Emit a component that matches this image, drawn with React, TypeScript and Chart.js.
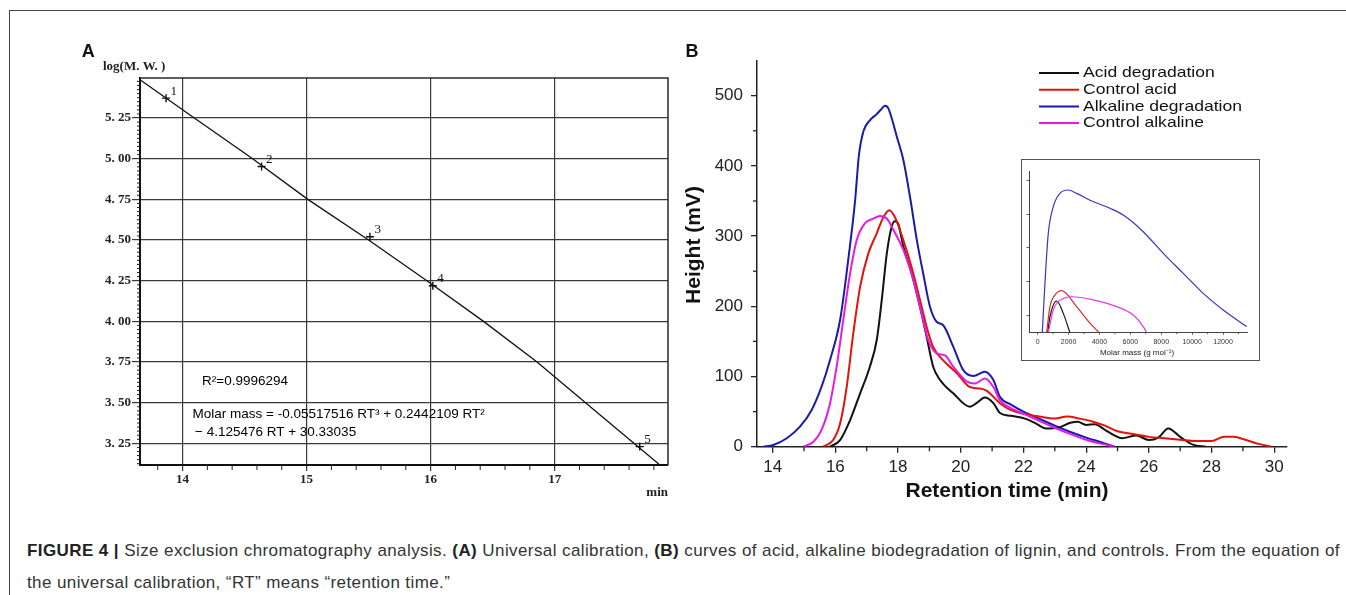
import React, { useEffect, useRef } from "react";
import { Chart, registerables } from "chart.js";

Chart.register(...registerables);

// ---------------- Panel A: universal calibration ----------------
const calibRT = [13.657, 14.095, 14.565, 15.01, 15.5, 15.97, 16.427, 16.858, 17.249, 17.855];
const calibLogMW = [5.485, 5.25, 5.0, 4.75, 4.5, 4.25, 4.0, 3.75, 3.5, 3.113];
const standardRT = [13.867, 14.637, 15.511, 16.018, 17.686];
const standardLogMW = [5.372, 4.952, 4.52, 4.219, 3.23];
const standardLabels = ["1", "2", "3", "4", "5"];
const calibXTicks = [14, 15, 16, 17];
const calibYTicks = [3.25, 3.5, 3.75, 4.0, 4.25, 4.5, 4.75, 5.0, 5.25];
const calibXRange = [13.657, 17.914];
const calibYRange = [3.117, 5.496];
const calibNotes = [
  "R\u00B2=0.9996294",
  "Molar mass = -0.05517516 RT\u00B3 + 0.2442109 RT\u00B2",
  "\u2212 4.125476 RT + 30.33035",
];

// ---------------- Panel B: chromatograms ----------------
const seriesNames = ["Acid degradation", "Control acid", "Alkaline degradation", "Control alkaline"];
const seriesColors = ["#111111", "#e3120b", "#1b1baa", "#e31ce3"];

const acidRT = [15.83, 16.15, 16.47, 16.79, 17.1, 17.32, 17.48, 17.64, 17.8, 17.9, 18.0, 18.17, 18.43, 18.7, 18.91, 19.12, 19.34, 19.76, 20.29, 20.5, 20.77, 21.04, 21.25, 21.6, 22.05, 22.4, 22.72, 23.1, 23.5, 23.73, 24.0, 24.27, 24.6, 24.9, 25.14, 25.6, 26.0, 26.3, 26.62, 27.0, 27.4, 27.82];
const acidHeight = [0, 9.5, 38, 76, 114, 152, 209, 275, 314, 321, 318, 285, 247, 199, 157, 114, 95, 76, 57, 62, 70, 62, 48, 44, 40, 33, 26, 27, 34, 35.6, 31, 32, 24, 16, 12, 16, 9.5, 13, 26, 14, 3, 0];

const ctrlAcidRT = [15.61, 15.93, 16.15, 16.36, 16.57, 16.79, 17.05, 17.32, 17.53, 17.72, 17.9, 18.17, 18.43, 18.7, 18.91, 19.12, 19.44, 19.87, 20.29, 20.61, 20.82, 21.25, 21.6, 22.0, 22.5, 23.0, 23.39, 23.8, 24.2, 24.6, 25.0, 25.5, 26.0, 26.5, 27.0, 27.5, 28.0, 28.4, 28.7, 29.0, 29.5, 29.9];
const ctrlAcidHeight = [0, 9.5, 33, 85, 161, 228, 275, 304, 327, 337, 327, 294, 256, 209, 171, 142, 123, 105, 85, 83, 80, 62, 52, 47, 43, 40, 43, 40, 36, 30, 22, 18, 14, 12, 10, 8, 8, 14, 14, 11, 4, 0];

const alkRT = [13.7, 14.02, 14.45, 14.87, 15.24, 15.56, 15.83, 16.15, 16.41, 16.63, 16.75, 16.9, 17.1, 17.3, 17.45, 17.58, 17.69, 17.96, 18.17, 18.38, 18.6, 18.8, 19.02, 19.23, 19.44, 19.76, 20.08, 20.4, 20.77, 21.04, 21.25, 21.6, 22.0, 22.5, 23.0, 23.5, 24.0, 24.5, 24.9];
const alkHeight = [0, 2.4, 12, 28.5, 52, 85.5, 123.5, 180.5, 266, 351, 415, 450, 465, 473, 480, 485.8, 482, 441.6, 408, 356, 294, 247, 199, 178, 173, 142.5, 109, 100.7, 106.8, 95, 71, 60, 50, 40, 30, 21, 13, 6, 0];

const ctrlAlkRT = [14.98, 15.3, 15.56, 15.83, 16.04, 16.25, 16.47, 16.68, 16.94, 17.21, 17.42, 17.64, 17.85, 18.17, 18.49, 18.75, 18.96, 19.23, 19.5, 19.76, 20.19, 20.45, 20.77, 21.04, 21.25, 21.6, 22.0, 22.5, 23.0, 23.5, 24.0, 24.5, 24.9];
const ctrlAlkHeight = [0, 7, 24, 62, 114, 180, 247, 294, 318, 325, 328.6, 325, 309, 280, 237, 190, 152, 133, 130, 114, 93, 90, 97, 85, 66, 55, 47, 37, 27, 18, 10, 4, 0];

const chromXTicks = [14, 16, 18, 20, 22, 24, 26, 28, 30];
const chromXMinor = [15, 17, 19, 21, 23, 25, 27, 29];
const chromYTicks = [0, 100, 200, 300, 400, 500];
const chromYMinor = [50, 150, 250, 350, 450];
const chromXRange = [13.5, 30.4];
const chromYRange = [0, 550];

// ---------------- Inset: molar mass distribution ----------------
const insetAcidMass = [647, 796, 1228, 1659, 2090];
const insetAcidVal = [0.5, 0.97, 1.435, 1.07, 0.5];
const insetCtrlAcidMass = [580, 796, 1119, 1551, 2522, 3385, 3989];
const insetCtrlAcidVal = [0.5, 1.27, 1.61, 1.74, 1.27, 0.78, 0.5];
const insetAlkMass = [300, 472, 688, 1012, 1443, 1983, 2522, 3385, 4680, 5540, 6835, 8130, 9424, 10718, 12013, 13527];
const insetAlkVal = [0.5, 1.96, 3.43, 4.22, 4.61, 4.71, 4.61, 4.41, 4.17, 3.97, 3.48, 2.84, 2.25, 1.66, 1.17, 0.68];
const insetCtrlAlkMass = [690, 1012, 1659, 2198, 3600, 5108, 6187, 6835, 7055];
const insetCtrlAlkVal = [0.5, 1.17, 1.51, 1.56, 1.47, 1.27, 1.02, 0.68, 0.5];
const insetColors = ["#1a1a1a", "#d92b2b", "#3434c6", "#e03ee0"];
const insetXTicks = [0, 2000, 4000, 6000, 8000, 10000, 12000];
const insetXMinor = [1000, 3000, 5000, 7000, 9000, 11000, 13000];
const insetYTicks = [1, 2, 3, 4, 5];
const insetXRange = [-560, 13570];
const insetYRange = [0.5, 5.25];

const SERIF = '"Liberation Serif", "Times New Roman", serif';
const SANS = '"Liberation Sans", Arial, sans-serif';

const pts = (xs: number[], ys: number[]) => xs.map((x, i) => ({ x, y: ys[i] }));
const fixedTicks = (values: number[]) => (scale: any) => {
  scale.ticks = values.map((v) => ({ value: v }));
};

function tickLine(ctx: CanvasRenderingContext2D, x1: number, y1: number, x2: number, y2: number) {
  ctx.beginPath();
  ctx.moveTo(x1, y1);
  ctx.lineTo(x2, y2);
  ctx.stroke();
}

// ---------------- plugins ----------------
const panelAPlugin = {
  id: "panelA",
  afterDraw(chart: any) {
    const { ctx, chartArea: a, scales } = chart;
    const x = scales.x;
    const y = scales.y;
    ctx.save();
    // top/right frame
    ctx.strokeStyle = "#2a2a2a";
    ctx.lineWidth = 1.5;
    ctx.beginPath();
    ctx.moveTo(a.left, a.top);
    ctx.lineTo(a.right, a.top);
    ctx.lineTo(a.right, a.bottom);
    ctx.stroke();
    // minor ticks
    ctx.strokeStyle = "#222";
    ctx.lineWidth = 1;
    const y0 = Math.ceil(calibYRange[0] / 0.025);
    const y1 = Math.floor(calibYRange[1] / 0.025);
    for (let k = y0; k <= y1; k++) {
      if (k % 10 === 0) continue;
      const py = y.getPixelForValue(k * 0.025);
      tickLine(ctx, a.left - 3, py, a.left, py);
    }
    const x0 = Math.ceil(calibXRange[0] / 0.2);
    const x1 = Math.floor(calibXRange[1] / 0.2);
    for (let k = x0; k <= x1; k++) {
      if (k % 5 === 0) continue;
      const px = x.getPixelForValue(k * 0.2);
      tickLine(ctx, px, a.bottom, px, a.bottom + 5);
    }
    // point labels
    ctx.fillStyle = "#111";
    ctx.font = `13px ${SERIF}`;
    ctx.textAlign = "left";
    ctx.textBaseline = "middle";
    const meta = chart.getDatasetMeta(1);
    meta.data.forEach((p: any, i: number) => {
      ctx.fillText(standardLabels[i], p.x + 4.5, p.y - 7);
    });
    // annotations
    ctx.font = `13.5px ${SANS}`;
    ctx.fillStyle = "#000";
    ctx.fillText(calibNotes[0], a.left + 62, a.top + 303);
    ctx.fillText(calibNotes[1], a.left + 52.5, a.top + 336.7);
    ctx.fillText(calibNotes[2], a.left + 55, a.top + 354.4);
    // axis titles
    ctx.fillStyle = "#222";
    ctx.font = `bold 13px ${SERIF}`;
    ctx.fillText("log(M. W. )", a.left - 37, a.top - 11.3);
    ctx.textAlign = "right";
    ctx.fillText("min", a.right, a.bottom + 27.3);
    // panel letter
    ctx.fillStyle = "#111";
    ctx.font = `bold 18px ${SANS}`;
    ctx.textAlign = "center";
    ctx.fillText("A", 88.3, 52);
    ctx.restore();
  },
};

const panelBPlugin = {
  id: "panelB",
  afterDraw(chart: any) {
    const { ctx, chartArea: a, scales } = chart;
    const x = scales.x;
    const y = scales.y;
    ctx.save();
    ctx.strokeStyle = "#222";
    ctx.lineWidth = 1.3;
    chromYMinor.forEach((v) => {
      const py = y.getPixelForValue(v);
      tickLine(ctx, a.left - 4, py, a.left, py);
    });
    chromXMinor.forEach((v) => {
      const px = x.getPixelForValue(v);
      tickLine(ctx, px, a.bottom, px, a.bottom + 4.5);
    });
    // legend
    const lx = 359;
    seriesNames.forEach((name, i) => {
      const ly = 73 + i * 16.7;
      ctx.strokeStyle = seriesColors[i];
      ctx.lineWidth = 2;
      tickLine(ctx, lx, ly, lx + 40, ly);
      ctx.save();
      ctx.translate(lx + 44, ly);
      ctx.scale(1.17, 1);
      ctx.fillStyle = "#111";
      ctx.font = `15px ${SANS}`;
      ctx.textAlign = "left";
      ctx.textBaseline = "middle";
      ctx.fillText(name, 0, 0);
      ctx.restore();
    });
    // axis titles
    ctx.fillStyle = "#111";
    ctx.font = `bold 21px ${SANS}`;
    ctx.textAlign = "center";
    ctx.textBaseline = "middle";
    ctx.fillText("Retention time (min)", 327, 491.7);
    ctx.save();
    ctx.translate(14.5, 245);
    ctx.rotate(-Math.PI / 2);
    ctx.fillText("Height (mV)", 0, 0);
    ctx.restore();
    ctx.font = `bold 18px ${SANS}`;
    ctx.fillText("B", 12, 52);
    ctx.restore();
  },
};

const insetPlugin = {
  id: "inset",
  afterDraw(chart: any) {
    const { ctx, chartArea: a, scales } = chart;
    ctx.save();
    ctx.strokeStyle = "#333";
    ctx.lineWidth = 0.8;
    insetXMinor.forEach((v) => {
      const px = scales.x.getPixelForValue(v);
      if (px <= a.right) tickLine(ctx, px, a.bottom, px, a.bottom + 1.5);
    });
    ctx.fillStyle = "#222";
    ctx.font = `8px ${SANS}`;
    ctx.textAlign = "center";
    ctx.textBaseline = "middle";
    ctx.fillText("Molar mass (g mol\u207B\u00B9)", 115, 193);
    ctx.restore();
  },
};

export default function App() {
  const refA = useRef<HTMLCanvasElement>(null);
  const refB = useRef<HTMLCanvasElement>(null);
  const refC = useRef<HTMLCanvasElement>(null);

  useEffect(() => {
    const chartA = new Chart(refA.current as HTMLCanvasElement, {
      type: "line",
      data: {
        datasets: [
          {
            data: pts(calibRT, calibLogMW),
            borderColor: "#111",
            borderWidth: 1.3,
            pointRadius: 0,
            tension: 0,
            fill: false,
          },
          {
            data: pts(standardRT, standardLogMW),
            showLine: false,
            pointStyle: "cross",
            pointRadius: 4,
            borderColor: "#111",
            backgroundColor: "#111",
            borderWidth: 1.4,
          },
        ],
      } as any,
      options: {
        animation: false,
        responsive: false,
        maintainAspectRatio: false,
        layout: { padding: { left: 0, top: 78, right: 32, bottom: 0 } },
        plugins: { legend: { display: false }, tooltip: { enabled: false } },
        scales: {
          x: {
            type: "linear",
            min: calibXRange[0],
            max: calibXRange[1],
            afterBuildTicks: fixedTicks(calibXTicks),
            afterFit: (s: any) => {
              s.height = 55;
            },
            grid: { color: "#3a3a3a", lineWidth: 1.2, tickLength: 6 },
            border: { display: true, color: "#111", width: 2 },
            ticks: {
              font: { family: SERIF, size: 13, weight: "bold" },
              color: "#222",
              padding: 0.5,
              maxRotation: 0,
              autoSkip: false,
              callback: (v: any) => String(v),
            },
          },
          y: {
            type: "linear",
            min: calibYRange[0],
            max: calibYRange[1],
            afterBuildTicks: fixedTicks(calibYTicks),
            afterFit: (s: any) => {
              s.width = 140;
            },
            grid: { color: "#3a3a3a", lineWidth: 1.2, tickLength: 8 },
            border: { display: true, color: "#111", width: 2 },
            ticks: {
              font: { family: SERIF, size: 13, weight: "bold" },
              color: "#222",
              padding: 1,
              autoSkip: false,
              callback: (v: any) => Number(v).toFixed(2).replace(".", ". "),
            },
          },
        },
      } as any,
      plugins: [panelAPlugin],
    });

    const bSeries = [
      pts(acidRT, acidHeight),
      pts(ctrlAcidRT, ctrlAcidHeight),
      pts(alkRT, alkHeight),
      pts(ctrlAlkRT, ctrlAlkHeight),
    ];
    const chartB = new Chart(refB.current as HTMLCanvasElement, {
      type: "line",
      data: {
        datasets: [3, 1, 0, 2].map((i) => ({
          label: seriesNames[i],
          data: bSeries[i],
          borderColor: seriesColors[i],
          borderWidth: 2,
          pointRadius: 0,
          cubicInterpolationMode: "monotone",
          fill: false,
        })),
      } as any,
      options: {
        animation: false,
        responsive: false,
        maintainAspectRatio: false,
        layout: { padding: { left: 0, top: 60.6, right: 59.2, bottom: 0 } },
        plugins: { legend: { display: false }, tooltip: { enabled: false } },
        scales: {
          x: {
            type: "linear",
            min: chromXRange[0],
            max: chromXRange[1],
            afterBuildTicks: fixedTicks(chromXTicks),
            afterFit: (s: any) => {
              s.height = 73.3;
            },
            grid: { drawOnChartArea: false, color: "#222", lineWidth: 1.3, tickLength: 6 },
            border: { display: true, color: "#222", width: 1.5 },
            ticks: {
              font: { family: SANS, size: 17 },
              color: "#222",
              padding: 4,
              maxRotation: 0,
              autoSkip: false,
            },
          },
          y: {
            type: "linear",
            min: chromYRange[0],
            max: chromYRange[1],
            afterBuildTicks: fixedTicks(chromYTicks),
            afterFit: (s: any) => {
              s.width = 77;
            },
            grid: { drawOnChartArea: false, color: "#222", lineWidth: 1.3, tickLength: 6 },
            border: { display: true, color: "#222", width: 1.5 },
            ticks: {
              font: { family: SANS, size: 17 },
              color: "#222",
              padding: 8,
              autoSkip: false,
            },
          },
        },
      } as any,
      plugins: [panelBPlugin],
    });

    const insetSeries = [
      pts(insetAcidMass, insetAcidVal),
      pts(insetCtrlAcidMass, insetCtrlAcidVal),
      pts(insetAlkMass, insetAlkVal),
      pts(insetCtrlAlkMass, insetCtrlAlkVal),
    ];
    const chartC = new Chart(refC.current as HTMLCanvasElement, {
      type: "line",
      data: {
        datasets: [3, 1, 0, 2].map((i) => ({
          label: seriesNames[i],
          data: insetSeries[i],
          borderColor: insetColors[i],
          borderWidth: 1.2,
          pointRadius: 0,
          cubicInterpolationMode: "monotone",
          fill: false,
        })),
      } as any,
      options: {
        animation: false,
        responsive: false,
        maintainAspectRatio: false,
        layout: { padding: { left: 0, top: 11.7, right: 10.7, bottom: 0 } },
        plugins: { legend: { display: false }, tooltip: { enabled: false } },
        scales: {
          x: {
            type: "linear",
            min: insetXRange[0],
            max: insetXRange[1],
            afterBuildTicks: fixedTicks(insetXTicks),
            afterFit: (s: any) => {
              s.height = 26.3;
            },
            grid: { drawOnChartArea: false, color: "#333", lineWidth: 0.8, tickLength: 2 },
            border: { display: true, color: "#444", width: 1 },
            ticks: {
              font: { family: SANS, size: 7 },
              color: "#333",
              padding: 2.8,
              maxRotation: 0,
              autoSkip: false,
              callback: (v: any) => String(v),
            },
          },
          y: {
            type: "linear",
            min: insetYRange[0],
            max: insetYRange[1],
            afterBuildTicks: fixedTicks(insetYTicks),
            afterFit: (s: any) => {
              s.width = 7;
            },
            grid: { drawOnChartArea: false, color: "#333", lineWidth: 0.8, tickLength: 2.5 },
            border: { display: true, color: "#444", width: 1 },
            ticks: { display: false },
          },
        },
      } as any,
      plugins: [insetPlugin],
    });

    return () => {
      chartA.destroy();
      chartB.destroy();
      chartC.destroy();
    };
  }, []);

  const capStyle: React.CSSProperties = {
    position: "absolute",
    left: 27,
    fontFamily: SANS,
    fontSize: 17,
    letterSpacing: "0.4px",
    lineHeight: "20px",
    color: "#333",
    margin: 0,
  };

  return (
    <div
      style={{
        position: "absolute",
        left: 0,
        top: 0,
        width: 1346,
        height: 595,
        overflow: "hidden",
        background: "#fff",
      }}
    >
      <div
        style={{
          position: "absolute",
          left: 9,
          top: 10,
          width: 1400,
          height: 700,
          borderTop: "1.3px solid #444",
          borderLeft: "1.3px solid #444",
        }}
      />
      <canvas
        ref={refA}
        width={700}
        height={520}
        style={{ position: "absolute", left: 0, top: 0, width: 700, height: 520 }}
      />
      <canvas
        ref={refB}
        width={666}
        height={520}
        style={{ position: "absolute", left: 680, top: 0, width: 666, height: 520 }}
      />
      <div
        style={{
          position: "absolute",
          left: 1021,
          top: 158.5,
          width: 239,
          height: 202.5,
          boxSizing: "border-box",
          border: "1.5px solid #555",
          background: "#fff",
        }}
      />
      <canvas
        ref={refC}
        width={236}
        height={199}
        style={{ position: "absolute", left: 1022, top: 160, width: 236, height: 199 }}
      />
      <div style={{ ...capStyle, top: 541, width: 1313, textAlign: "justify", textAlignLast: "justify" } as any}>
        <b style={{ color: "#222" }}>FIGURE 4 |</b> Size exclusion chromatography analysis. <b style={{ color: "#222" }}>(A)</b>{" "}
        Universal calibration, <b style={{ color: "#222" }}>(B)</b> curves of acid, alkaline biodegradation of lignin, and
        controls. From the equation of
      </div>
      <div style={{ ...capStyle, top: 572.6, whiteSpace: "nowrap" }}>
        the universal calibration, {"\u201C"}RT{"\u201D"} means {"\u201C"}retention time.{"\u201D"}
      </div>
    </div>
  );
}
